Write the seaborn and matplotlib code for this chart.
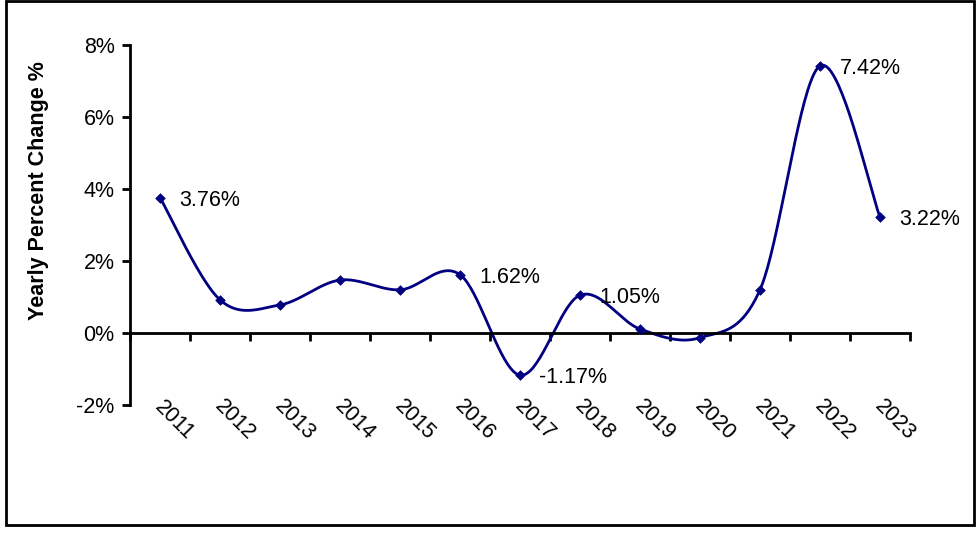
import numpy as np
import pandas as pd
import matplotlib
matplotlib.use("Agg")
import matplotlib.pyplot as plt
import seaborn as sns
from matplotlib.patches import Rectangle
from matplotlib.ticker import FixedLocator, FuncFormatter

years = ["2011", "2012", "2013", "2014", "2015", "2016", "2017",
         "2018", "2019", "2020", "2021", "2022", "2023"]
values = [3.76, 0.92, 0.78, 1.47, 1.20, 1.62, -1.17, 1.05, 0.11, -0.13, 1.20, 7.42, 3.22]
labelled_years = ["2011", "2016", "2017", "2018", "2022", "2023"]
y_ticks = [-2, 0, 2, 4, 6, 8]

sns.set_style("white")
plt.rcParams["font.family"] = ["Liberation Sans", "DejaVu Sans"]
plt.rcParams["axes.unicode_minus"] = False
plt.rcParams["text.color"] = "black"
plt.rcParams["axes.labelcolor"] = "black"
plt.rcParams["xtick.color"] = "black"
plt.rcParams["ytick.color"] = "black"

NAVY = "#000080"
FS = 15.5

fig = plt.figure(figsize=(9.76, 5.33), dpi=100)
ax = fig.add_axes([130 / 976, (533 - 405) / 533, 780 / 976, 360 / 533])

xs = np.arange(len(years), dtype=float)
ys = np.array(values, dtype=float)

# Excel-like smoothed line (Catmull-Rom Bezier in screen-proportional space)
k = 0.6  # y-scale relative to x (36 px per % vs 60 px per category)
P = np.column_stack([xs, ys * k])
curve = []
for i in range(len(P) - 1):
    p0 = P[i - 1] if i > 0 else P[i]
    p1 = P[i]
    p2 = P[i + 1]
    p3 = P[i + 2] if i + 2 < len(P) else P[i + 1]
    c1 = p1 + (p2 - p0) / 6.0
    c2 = p2 - (p3 - p1) / 6.0
    t = np.linspace(0, 1, 40)[:, None]
    seg = ((1 - t) ** 3) * p1 + 3 * ((1 - t) ** 2) * t * c1 + 3 * (1 - t) * t ** 2 * c2 + t ** 3 * p2
    curve.append(seg if i == 0 else seg[1:])
curve = np.vstack(curve)
smooth = pd.DataFrame({"x": curve[:, 0], "y": curve[:, 1] / k})
pts = pd.DataFrame({"x": xs, "y": ys, "year": years})

sns.lineplot(data=smooth, x="x", y="y", ax=ax, color=NAVY, linewidth=2, sort=False,
             estimator=None)
sns.scatterplot(data=pts, x="x", y="y", ax=ax, color=NAVY, marker="D", s=24,
                edgecolor=NAVY, linewidth=0.5, zorder=5)

ax.set_xlim(-0.5, len(years) - 0.5)
ax.set_ylim(-2, 8)

# y axis
ax.yaxis.set_major_locator(FixedLocator(y_ticks))
ax.yaxis.set_major_formatter(FuncFormatter(lambda v, p: f"{v:.0f}%"))
ax.tick_params(axis="y", which="major", direction="out", length=6, width=2,
               labelsize=FS, pad=5, left=True, colors="black")
ax.set_ylabel("Yearly Percent Change %", fontsize=FS, fontweight="bold", color="black")
ax.yaxis.set_label_coords(-0.104, 0.597)

# x axis at zero with ticks at category boundaries
ax.spines["bottom"].set_position(("data", 0))
ax.spines["top"].set_visible(False)
ax.spines["right"].set_visible(False)
for sp in ("left", "bottom"):
    ax.spines[sp].set_linewidth(2)
    ax.spines[sp].set_color("black")
ax.xaxis.set_major_locator(FixedLocator(np.arange(-0.5, len(years), 1.0)))
ax.tick_params(axis="x", which="major", direction="out", length=6, width=2,
               labelbottom=False, bottom=True)
ax.set_xlabel("")

# category labels below plot area
trans = matplotlib.transforms.blended_transform_factory(ax.transData, ax.transAxes)
for xi, yr in zip(xs, years):
    ax.text(xi + 0.24, -0.043, yr, transform=trans, rotation=-45, ha="center",
            va="center", fontsize=FS, color="black")

# data labels
for xi, yi, yr in zip(xs, ys, years):
    if yr in labelled_years:
        ax.annotate(f"{yi:.2f}%", (xi, yi), xytext=(14, -2), textcoords="offset points",
                    ha="left", va="center", fontsize=FS, color="black")

ax.grid(False)

# outer border
fig.patches.append(Rectangle((6 / 976, 8 / 533), 968 / 976, 524 / 533,
                             transform=fig.transFigure, fill=False,
                             edgecolor="black", linewidth=2))

fig.savefig("out.png", dpi=100)
